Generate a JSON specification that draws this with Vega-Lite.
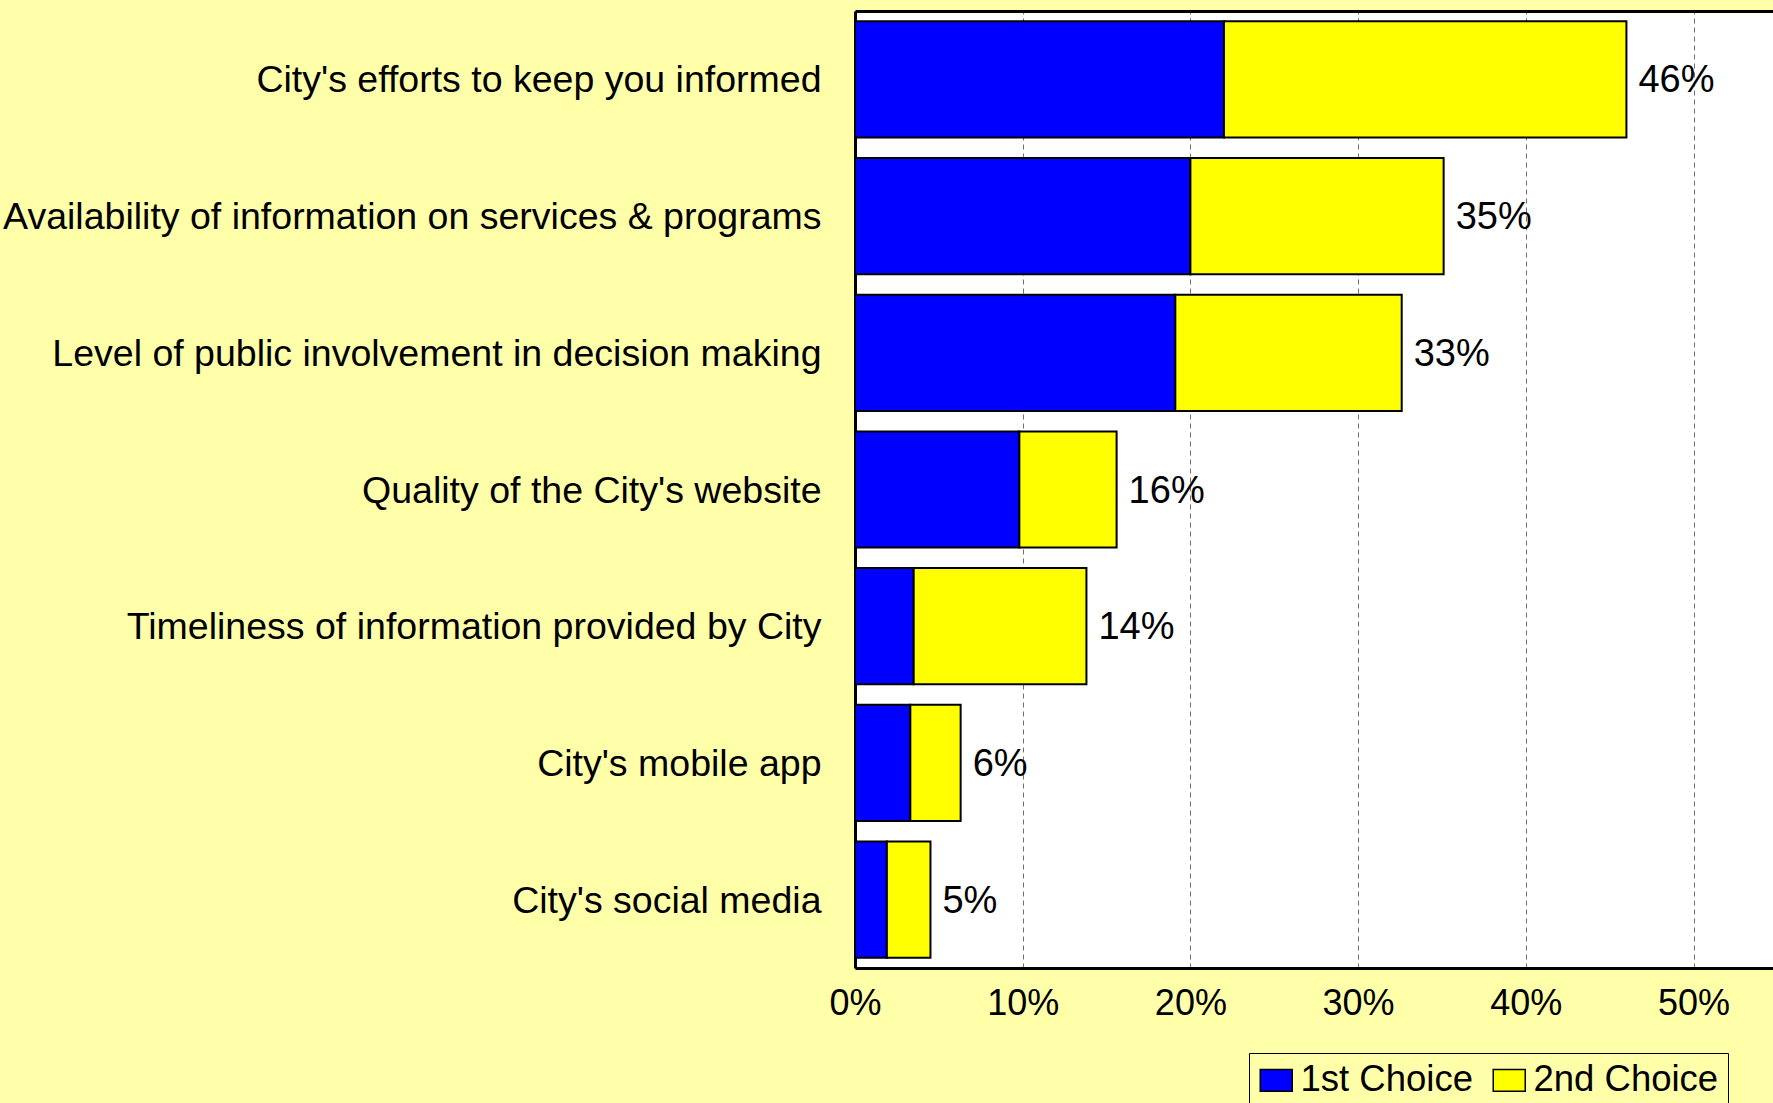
{
  "$schema": "https://vega.github.io/schema/vega-lite/v6.json",
  "width": 918,
  "height": 957,
  "autosize": {"type": "none"},
  "padding": {"left": 855, "top": 11, "right": 0, "bottom": 135},
  "background": "#FFFFAA",
  "config": {
    "view": {"fill": "white", "stroke": null},
    "font": "Liberation Sans",
    "axis": {"labelFont": "Liberation Sans", "labelColor": "black"},
    "legend": {"labelFont": "Liberation Sans"}
  },
  "datasets": {
    "bars": [
      {"category": "City's efforts to keep you informed", "choice": "1st Choice", "value": 0.22},
      {"category": "City's efforts to keep you informed", "choice": "2nd Choice", "value": 0.24},
      {"category": "Availability of information on services & programs", "choice": "1st Choice", "value": 0.20},
      {"category": "Availability of information on services & programs", "choice": "2nd Choice", "value": 0.151},
      {"category": "Level of public involvement in decision making", "choice": "1st Choice", "value": 0.191},
      {"category": "Level of public involvement in decision making", "choice": "2nd Choice", "value": 0.135},
      {"category": "Quality of the City's website", "choice": "1st Choice", "value": 0.098},
      {"category": "Quality of the City's website", "choice": "2nd Choice", "value": 0.058},
      {"category": "Timeliness of information provided by City", "choice": "1st Choice", "value": 0.035},
      {"category": "Timeliness of information provided by City", "choice": "2nd Choice", "value": 0.103},
      {"category": "City's mobile app", "choice": "1st Choice", "value": 0.033},
      {"category": "City's mobile app", "choice": "2nd Choice", "value": 0.030},
      {"category": "City's social media", "choice": "1st Choice", "value": 0.019},
      {"category": "City's social media", "choice": "2nd Choice", "value": 0.026}
    ],
    "totals": [
      {"category": "City's efforts to keep you informed", "total": 0.46, "label": "46%"},
      {"category": "Availability of information on services & programs", "total": 0.351, "label": "35%"},
      {"category": "Level of public involvement in decision making", "total": 0.326, "label": "33%"},
      {"category": "Quality of the City's website", "total": 0.156, "label": "16%"},
      {"category": "Timeliness of information provided by City", "total": 0.138, "label": "14%"},
      {"category": "City's mobile app", "total": 0.063, "label": "6%"},
      {"category": "City's social media", "total": 0.045, "label": "5%"}
    ]
  },
  "layer": [
    {
      "data": {"name": "bars"},
      "mark": {"type": "bar", "stroke": "black", "strokeWidth": 2},
      "encoding": {
        "y": {
          "field": "category", "type": "nominal", "sort": null,
          "scale": {"paddingInner": 0.15, "paddingOuter": 0.075},
          "axis": {
            "title": null, "ticks": false, "labelFontSize": 37.5, "labelPadding": 34, "labelOffset": 2,
            "labelLimit": 900, "domainColor": "black", "domainWidth": 3, "grid": false
          }
        },
        "x": {
          "field": "value", "type": "quantitative", "stack": "zero",
          "scale": {"domain": [0, 0.5474], "nice": false, "zero": true},
          "axis": {
            "title": null, "orient": "bottom", "format": ".0%", "values": [0, 0.1, 0.2, 0.3, 0.4, 0.5],
            "labelFontSize": 36, "labelPadding": 18, "ticks": false,
            "domainColor": "black", "domainWidth": 3,
            "grid": true, "gridColor": "#707070", "gridDash": [5, 4], "gridWidth": 1,
            "labelFlush": false
          }
        },
        "color": {
          "field": "choice", "type": "nominal",
          "scale": {"domain": ["1st Choice", "2nd Choice"], "range": ["#0000FF", "#FFFF00"]},
          "legend": {
            "title": null, "orient": "none", "legendX": 394, "legendY": 1042,
            "direction": "horizontal", "symbolType": "M-1,-0.68H1V0.68H-1Z", "symbolSize": 1024,
            "symbolStrokeColor": "black", "symbolOpacity": 1,
            "labelFontSize": 36.5, "labelColor": "black", "labelOffset": 6, "labelLimit": 500,
            "labelExpr": "datum.label == '2nd Choice' ? datum.label + '\u00a0\u00a0\u00a0\u00a0\u00a0\u00a0' : datum.label",
            "columnPadding": 17, "padding": 9, "strokeColor": "black", "fillColor": "#FFFFAA"
          }
        }
      }
    },
    {
      "data": {"name": "totals"},
      "mark": {"type": "text", "align": "left", "baseline": "middle", "dx": 12, "dy": 2, "fontSize": 38, "color": "black"},
      "encoding": {
        "y": {"field": "category", "type": "nominal", "sort": null},
        "x": {
          "field": "total", "type": "quantitative",
          "axis": {"orient": "top", "labels": false, "ticks": false, "grid": false, "title": null,
                   "domainColor": "black", "domainWidth": 3}
        },
        "text": {"field": "label"}
      }
    }
  ],
  "resolve": {"axis": {"x": "independent"}}
}
